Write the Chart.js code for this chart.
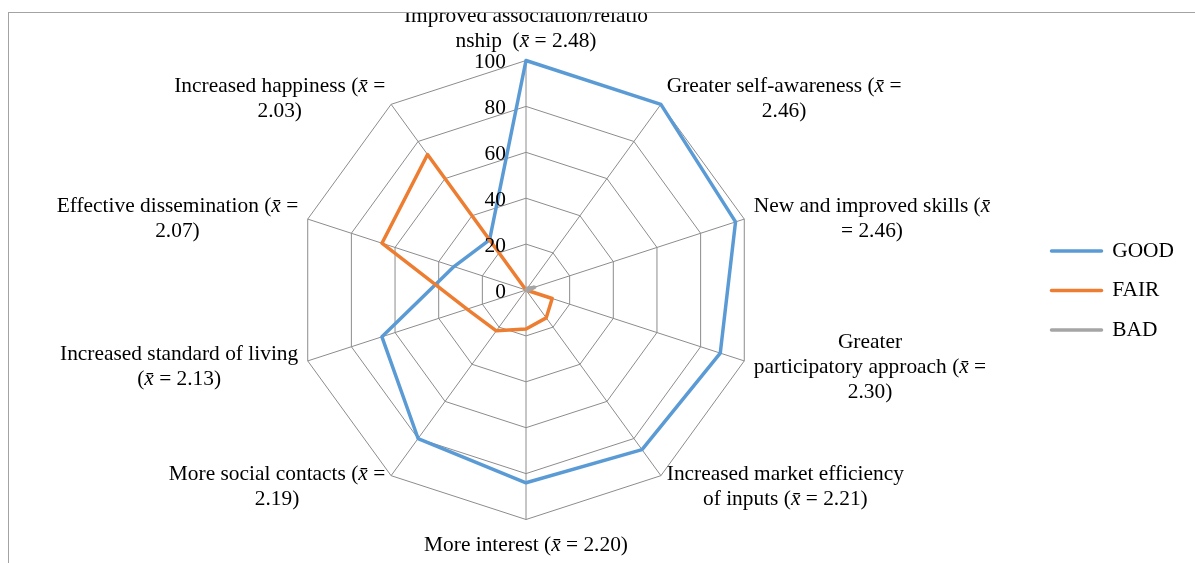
<!DOCTYPE html>
<html>
<head>
<meta charset="utf-8">
<script src="https://cdn.jsdelivr.net/npm/chart.js@4.4.1/dist/chart.umd.min.js"></script>
<style>
  html, body { margin: 0; padding: 0; background: #fff; overflow: hidden; }
  #frame {
    position: absolute; left: 8px; top: 12px; width: 1230px; height: 600px;
    border-left: 1px solid #a3a3a3; border-top: 1px solid #a3a3a3; overflow: hidden;
  }
  #wrap { position: absolute; left: -9px; top: -13px; width: 1195px; height: 563px; }
</style>
</head>
<body>
<div id="frame"><div id="wrap"><canvas id="chart" width="1195" height="563"></canvas></div></div>
<script>
// Spokes, clockwise from the top; each entry holds the wrapped lines of its caption
const categories = [
  ["Improved association/relatio", "nship  (x\u0304 = 2.48)"],
  ["Greater self-awareness (x\u0304 =", "2.46)"],
  ["New and improved skills (x\u0304", "= 2.46)"],
  ["Greater", "participatory approach (x\u0304 =", "2.30)"],
  ["Increased market efficiency", "of inputs (x\u0304 = 2.21)"],
  ["More interest (x\u0304 = 2.20)"],
  ["More social contacts (x\u0304 =", "2.19)"],
  ["Increased standard of living", "(x\u0304 = 2.13)"],
  ["Effective dissemination (x\u0304 =", "2.07)"],
  ["Increased happiness (x\u0304 =", "2.03)"]
];

const seriesNames = ["GOOD", "FAIR", "BAD"];
const goodValues = [100, 100, 96, 89, 86, 84, 80, 66, 33, 27];
const fairValues = [0, 0, 0, 12, 15, 17, 22, 27, 66, 73];
const badValues  = [0, 1, 4, 1, 0, 0, 0, 0, 0, 0];

const axisTicks = [0, 20, 40, 60, 80, 100];

// Presentation
const FONT_FAMILY = '"Liberation Serif", "Times New Roman", serif';
const FONT_SIZE = 21.4;
const LINE_H = 25;
const GRID_COLOR = '#8c8c8c';
const SERIES_COLORS = ['#5B9BD5', '#ED7D31', '#A5A5A5'];
const LINE_WIDTH = 3.5;
const PLOT = { cx: 526, cy: 290, radius: 229.5 };
const MEAN_SYMBOL = 'x\u0304';

const seriesValues = [goodValues, fairValues, badValues];

const uprightFont = FONT_SIZE + 'px ' + FONT_FAMILY;
const italicFont = 'italic ' + FONT_SIZE + 'px ' + FONT_FAMILY;

// Split a caption line so the mean symbol is set in italics
function pieces(text) {
  const out = [];
  text.split(MEAN_SYMBOL).forEach((part, k) => {
    if (k > 0) out.push({ t: MEAN_SYMBOL, f: italicFont });
    if (part) out.push({ t: part, f: uprightFont });
  });
  return out;
}
function lineWidth(ctx, text) {
  return pieces(text).reduce((s, p) => { ctx.font = p.f; return s + ctx.measureText(p.t).width; }, 0);
}
function drawLine(ctx, text, cx, y) {
  let x = cx - lineWidth(ctx, text) / 2;
  pieces(text).forEach(p => {
    ctx.font = p.f;
    ctx.fillText(p.t, x, y);
    x += ctx.measureText(p.t).width;
  });
}

// Tick numbers beside the vertical spoke and the wrapped spoke captions
const axisText = {
  id: 'axisText',
  afterDatasetsDraw(chart) {
    const scale = chart.scales.r;
    const ctx = chart.ctx;
    ctx.save();
    ctx.fillStyle = '#000';
    ctx.textBaseline = 'middle';

    ctx.font = uprightFont;
    ctx.textAlign = 'right';
    scale.ticks.forEach(t => {
      const r = scale.getDistanceFromCenterForValue(t.value);
      ctx.fillText(String(t.value), scale.xCenter - 20, scale.yCenter - r + 2);
    });

    ctx.textAlign = 'left';
    chart.data.labels.forEach((lines, i) => {
      const pos = scale.getPointPosition(i, scale.drawingArea + 10);
      let deg = (scale.getIndexAngle(i) * 180 / Math.PI) % 360;
      if (deg < 0) deg += 360;
      const w = Math.max(...lines.map(l => lineWidth(ctx, l)));
      const h = lines.length * LINE_H;
      let left, top;
      if (deg < 5 || deg > 355) { left = pos.x - w / 2; top = pos.y - h; }
      else if (Math.abs(deg - 180) < 5) { left = pos.x - w / 2; top = pos.y; }
      else if (deg < 180) { left = pos.x; top = pos.y - h / 2; }
      else { left = pos.x - w; top = pos.y - h / 2; }
      lines.forEach((l, k) => drawLine(ctx, l, left + w / 2, top + LINE_H * (k + 0.5) + 3));
    });
    ctx.restore();
  }
};

new Chart(document.getElementById('chart'), {
  type: 'radar',
  data: {
    labels: categories,
    datasets: seriesNames.map((name, i) => ({
      label: name,
      data: seriesValues[i],
      borderColor: SERIES_COLORS[i],
      backgroundColor: SERIES_COLORS[i],
      borderWidth: LINE_WIDTH,
      borderJoinStyle: 'round',
      fill: false,
      pointRadius: 0,
      pointHoverRadius: 0,
      order: seriesNames.length - i
    }))
  },
  options: {
    responsive: false,
    animation: false,
    events: [],
    layout: { padding: { top: 18, right: 11, left: 0, bottom: 0 } },
    scales: {
      r: {
        min: axisTicks[0],
        max: axisTicks[axisTicks.length - 1],
        ticks: { display: false, stepSize: axisTicks[1] - axisTicks[0] },
        pointLabels: { display: false },
        grid: { color: GRID_COLOR, lineWidth: 1 },
        angleLines: { color: GRID_COLOR, lineWidth: 1 },
        afterFit(scale) {
          scale.xCenter = PLOT.cx;
          scale.yCenter = PLOT.cy;
          scale.drawingArea = PLOT.radius;
        }
      }
    },
    plugins: {
      tooltip: { enabled: false },
      legend: {
        position: 'right',
        align: 'center',
        labels: {
          usePointStyle: true,
          pointStyle: 'line',
          pointStyleWidth: 50,
          padding: 18,
          color: '#000',
          font: { family: FONT_FAMILY, size: FONT_SIZE },
          sort: (a, b) => a.datasetIndex - b.datasetIndex,
          generateLabels(chart) {
            return Chart.defaults.plugins.legend.labels.generateLabels(chart).map(item => ({
              ...item,
              pointStyle: 'line',
              lineCap: 'round',
              lineWidth: LINE_WIDTH,
              strokeStyle: SERIES_COLORS[item.datasetIndex]
            }));
          }
        }
      }
    }
  },
  plugins: [axisText]
});
</script>
</body>
</html>
